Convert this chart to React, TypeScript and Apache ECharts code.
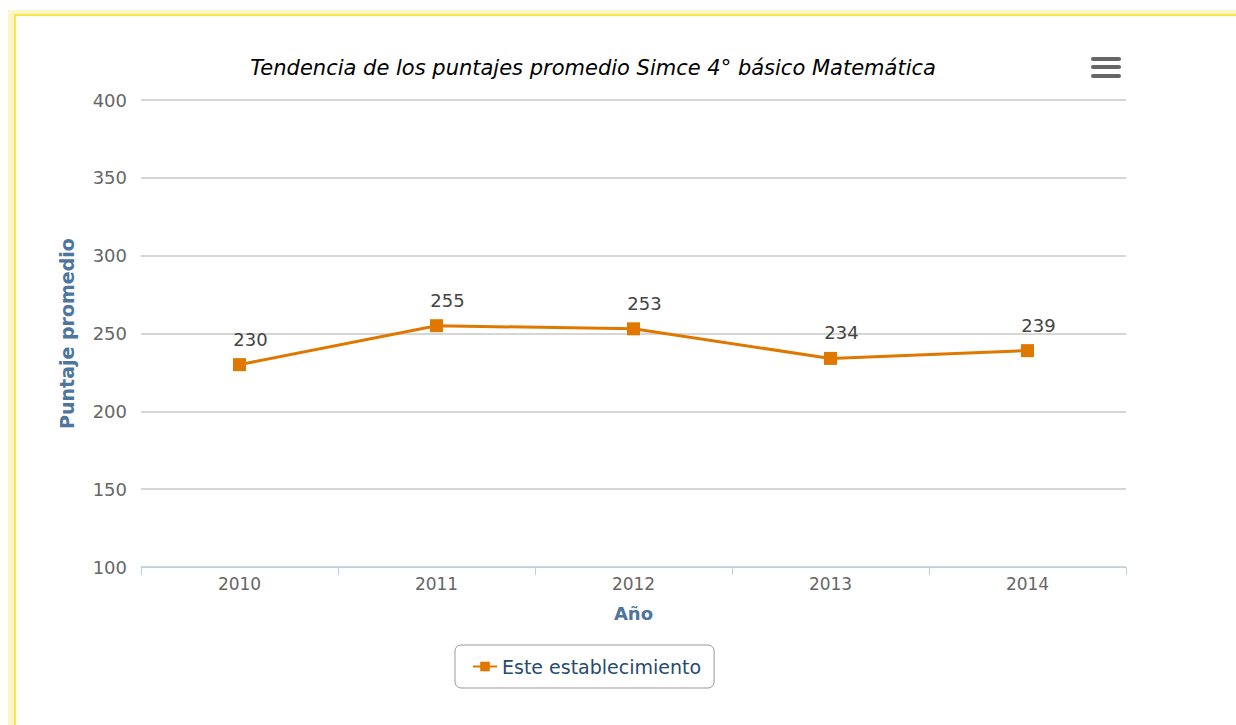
import React, { useEffect, useRef } from "react";
import * as echarts from "echarts";

const categories = ["2010", "2011", "2012", "2013", "2014"];
const puntajes = [230, 255, 253, 234, 239];
const titulo = "Tendencia de los puntajes promedio Simce 4° básico Matemática";
const serieNombre = "Este establecimiento";

export default function App() {
  const ref = useRef<HTMLDivElement>(null);
  useEffect(() => {
    if (!ref.current) return;
    const chart = echarts.init(ref.current, undefined, { renderer: "svg" });
    const font = "DejaVu Sans";
    chart.setOption({
      animation: false,
      title: {
        text: titulo,
        left: 588,
        top: 52,
        textAlign: "center",
        textStyle: { fontFamily: font, fontStyle: "italic", fontWeight: "normal", fontSize: 21, color: "#000" },
      },
      grid: { left: 141, right: 110, top: 100, bottom: 158, containLabel: false },
      xAxis: {
        type: "category",
        data: categories,
        boundaryGap: true,
        name: "Año",
        nameLocation: "middle",
        nameGap: 37,
        nameTextStyle: { fontFamily: font, fontWeight: "bold", fontSize: 18, color: "#4d759e" },
        axisLine: { lineStyle: { color: "#c0d0e0" } },
        axisTick: { show: true, length: 8, lineStyle: { color: "#c0d0e0" }, alignWithLabel: false },
        axisLabel: { fontFamily: font, fontSize: 17, color: "#666", margin: 8 },
      },
      yAxis: {
        type: "value",
        min: 100,
        max: 400,
        interval: 50,
        name: "Puntaje promedio",
        nameLocation: "middle",
        nameGap: 65,
        nameTextStyle: { fontFamily: font, fontWeight: "bold", fontSize: 19, color: "#4d759e" },
        axisLine: { show: false },
        axisTick: { show: false },
        axisLabel: { fontFamily: font, fontSize: 18, color: "#666", margin: 14 },
        splitLine: { lineStyle: { color: "#c8c8c8", width: 1.5 } },
      },
      legend: {
        left: 455,
        top: 645,
        data: [serieNombre],
        itemWidth: 24,
        itemHeight: 12,
        itemGap: 6,
        padding: [12, 13, 12, 17],
        borderColor: "#999",
        borderWidth: 1,
        borderRadius: 6,
        textStyle: { fontFamily: font, fontSize: 19, color: "#274b6d" },
      },
      graphic: [
        { type: "rect", shape: { x: 1091, y: 57, width: 30, height: 4, r: 2 }, style: { fill: "#666" } },
        { type: "rect", shape: { x: 1091, y: 65, width: 30, height: 4, r: 2 }, style: { fill: "#666" } },
        { type: "rect", shape: { x: 1091, y: 74, width: 30, height: 4, r: 2 }, style: { fill: "#666" } },
      ],
      series: [
        {
          name: serieNombre,
          type: "line",
          data: puntajes,
          color: "#e07800",
          symbol: "rect",
          symbolSize: 13,
          lineStyle: { width: 3, color: "#e07800" },
          itemStyle: { color: "#e07800" },
          label: {
            show: true,
            position: "top",
            distance: 10,
            offset: [11, 0],
            fontFamily: font,
            fontSize: 18,
            color: "#444",
          },
        },
      ],
    });
    return () => chart.dispose();
  }, []);
  return (
    <div style={{ position: "fixed", left: 0, top: 0, width: 1236, height: 725, background: "#fff", overflow: "hidden" }}>
      <div style={{ position: "absolute", left: 8, top: 10, right: 0, bottom: 0, background: "#fcf6c4" }} />
      <div
        style={{
          position: "absolute",
          left: 14,
          top: 14,
          right: 0,
          bottom: 0,
          background: "#fff",
          borderLeft: "2px solid #f6e94c",
          borderTop: "2px solid #f6e94c",
        }}
      />
      <div ref={ref} style={{ position: "absolute", left: 0, top: 0, width: 1236, height: 725 }} />
    </div>
  );
}
